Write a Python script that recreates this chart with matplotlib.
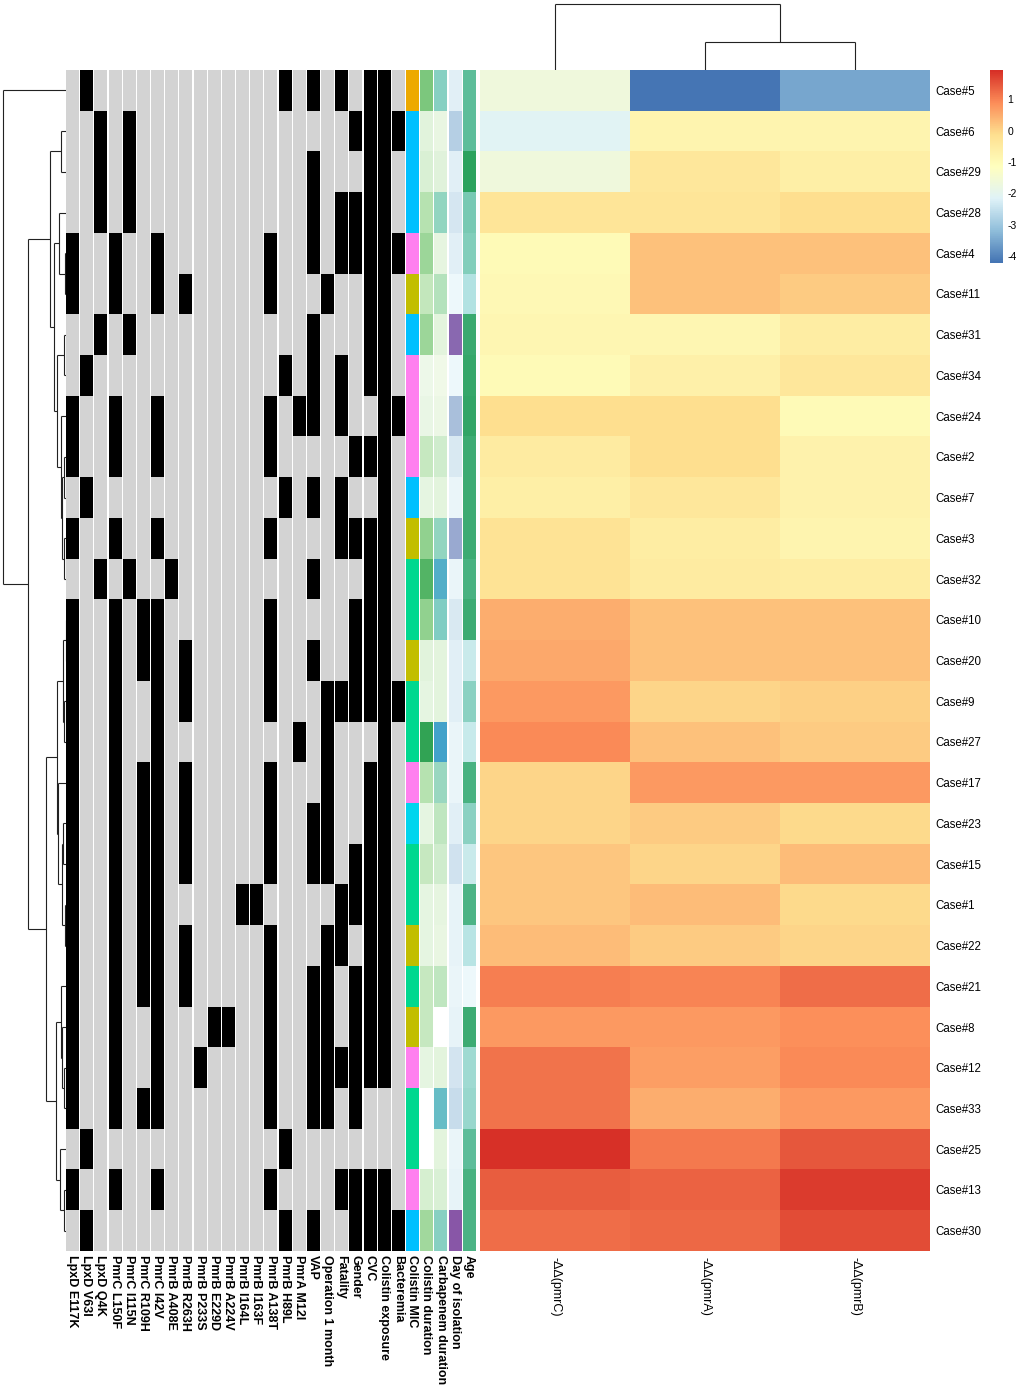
import numpy as np
import matplotlib
matplotlib.use("Agg")
import matplotlib.pyplot as plt
from matplotlib.colors import LinearSegmentedColormap, to_rgb

plt.rcParams['font.family'] = ['Liberation Sans', 'DejaVu Sans']

# ---- data -------------------------------------------------------------
cases = ["Case#5", "Case#6", "Case#29", "Case#28", "Case#4", "Case#11", "Case#31",
         "Case#34", "Case#24", "Case#2", "Case#7", "Case#3", "Case#32", "Case#10",
         "Case#20", "Case#9", "Case#27", "Case#17", "Case#23", "Case#15", "Case#1",
         "Case#22", "Case#21", "Case#8", "Case#12", "Case#33", "Case#25", "Case#13",
         "Case#30"]

genes = ["-ΔΔ(pmrC)", "-ΔΔ(pmrA)", "-ΔΔ(pmrB)"]
pmrC = [-1.67, -2.12, -1.67, -0.32, -1.02, -0.95, -0.88, -1.0, -0.15, -0.48, -0.65,
        -0.22, -0.22, 0.51, 0.56, 0.75, 0.94, 0.02, 0.02, 0.18, 0.21, 0.28, 1.02,
        0.75, 1.14, 1.14, 1.94, 1.39, 1.2]
pmrA = [-4.23, -0.78, -0.35, -0.32, 0.26, 0.23, -0.85, -0.68, -0.12, -0.15, -0.35,
        -0.58, -0.48, 0.26, 0.25, 0.02, 0.23, 0.74, 0.14, 0.02, 0.33, 0.15, 0.98,
        0.75, 0.66, 0.5, 1.09, 1.36, 1.3]
pmrB = [-3.54, -0.78, -0.65, -0.1, 0.25, 0.14, -0.58, -0.35, -1.0, -0.72, -0.72,
        -0.8, -0.55, 0.25, 0.25, 0.03, 0.15, 0.74, -0.08, 0.3, -0.05, -0.02, 1.23,
        0.84, 0.91, 0.75, 1.45, 1.78, 1.6]

features = ["LpxD E117K", "LpxD V63I", "LpxD Q4K", "PmrC L150F", "PmrC I115N",
            "PmrC R109H", "PmrC I42V", "PmrB A408E", "PmrB R263H", "PmrB P233S",
            "PmrB E229D", "PmrB A224V", "PmrB I164L", "PmrB I163F", "PmrB A138T",
            "PmrB H89L", "PmrA M12I", "VAP", "Operation 1 month", "Fatality",
            "Gender", "CVC", "Colistin exposure", "Bacteremia"]
# one string per case, one character per feature (1 = present)
binary_rows = [
    "010000000000000101010110",
    "001010000000000000001111",
    "001010000000000001000110",
    "001010000000000001011110",
    "100100100000001001011111",
    "100100101000001000100110",
    "001010000000000001000110",
    "010000000000000101010110",
    "100100100000001011010011",
    "100100100000001000001110",
    "010000000000000101010010",
    "100100100000001000011110",
    "001010010000000001000110",
    "100101100000001000001110",
    "100101101000001001001110",
    "100100101000001000111111",
    "100100100000000010100010",
    "100101101000001000100110",
    "100101101000001001100110",
    "100101101000001001101110",
    "100101100000110000011110",
    "100101101000001000110110",
    "100101101000001001101110",
    "100100100011001001101110",
    "100100100100001001111110",
    "100101100000001001101000",
    "010000000000000100000000",
    "100100100000001000011110",
    "010000000000000101001111",
]

colistin_mic = ["0.5", "2", "2", "2", "4", "8", "2", "4", "4", "4", "2", "8", "16", "16",
                "8", "16", "16", "4", "1", "16", "16", "8", "16", "8", "4", "16", "16",
                "4", "2"]
mic_colors = {"0.5": "#EDA900", "1": "#00D5EE", "2": "#00C0FF", "4": "#FF7FEF",
              "8": "#C2BE00", "16": "#00D88F"}
colistin_duration = [25, 3, 5, 14, 19, 11, 19, 0, 1, 10, 2, 21, 33, 21, 3, 2, 40, 14, 2,
                     10, 2, 2, 10, 10, 2, np.nan, np.nan, 6, 18]
carbapenem_duration = [30, 2, 5, 27, 3, 18, 4, 0, 1, 10, 4, 27, 45, 32, 4, 4, 50, 25, 15,
                       10, 3, 2, 15, np.nan, 4, 39, 4, 7, 30]
day_of_isolation = [4, 19, 4, 8, 4, 0, 54, 0, 25, 7, 1, 33, 1, 7, 4, 4, 1, 1, 4, 10, 2, 2,
                    1, 2, 9, 13, 1, 2, 60]
age = [70, 70, 90, 61, 58, 43, 84, 86, 87, 83, 83, 83, 78, 83, 34, 55, 35, 78, 55, 34, 77,
       41, 20, 83, 49, 51, 70, 78, 77]

# ---- helpers ----------------------------------------------------------
W, H = 1024, 1389
fig = plt.figure(figsize=(W / 100, H / 100), dpi=100)


def px_axes(x0, y0, x1, y1):
    ax = fig.add_axes([x0 / W, 1 - y1 / H, (x1 - x0) / W, (y1 - y0) / H])
    return ax


def ordered_complete_linkage(X):
    # euclidean / complete linkage, only neighbouring clusters (keeps the shown order)
    X = np.asarray(X, float)
    n = len(X)
    D = np.sqrt(((X[:, None] - X[None]) ** 2).sum(-1))
    groups = [[i] for i in range(n)]
    ids = list(range(n))
    merges = []
    nxt = n
    while len(groups) > 1:
        d = [D[np.ix_(groups[k], groups[k + 1])].max() for k in range(len(groups) - 1)]
        k = int(np.argmin(d))
        merges.append((ids[k], ids[k + 1], d[k]))
        groups[k:k + 2] = [groups[k] + groups[k + 1]]
        ids[k:k + 2] = [nxt]
        nxt += 1
    return merges


def dendro_segments(merges, n):
    pos = {i: i + 0.5 for i in range(n)}
    hgt = {i: 0.0 for i in range(n)}
    segs = []
    for k, (a, b, h) in enumerate(merges):
        node = n + k
        segs.append(((hgt[a], h), (pos[a], pos[a])))
        segs.append(((hgt[b], h), (pos[b], pos[b])))
        segs.append(((h, h), (pos[a], pos[b])))
        pos[node] = (pos[a] + pos[b]) / 2
        hgt[node] = h
    return segs


n = len(cases)
Y0, Y1 = 70, 1251
mat = np.column_stack([pmrC, pmrA, pmrB])

# ---- row dendrogram ---------------------------------------------------
row_merges = ordered_complete_linkage(mat)
root = row_merges[-1][2]
axd = px_axes(0, Y0, 66, Y1)
for (hx, yy) in dendro_segments(row_merges, n):
    axd.plot(hx, yy, color="#222222", lw=0.8, solid_capstyle="butt")
axd.set_xlim(root * 66 / 63, 0)
axd.set_ylim(n, 0)
axd.axis("off")

# ---- annotation tracks ------------------------------------------------
ann = px_axes(66, Y0, 477, Y1)
ntr = len(features) + 5
track_w = 0.86
bin_arr = np.array([[int(c) for c in r] for r in binary_rows])
for j in range(len(features)):
    col = np.array([to_rgb("#000000") if v else to_rgb("#D3D3D3") for v in bin_arr[:, j]])
    ann.imshow(col[:, None, :], extent=[j, j + track_w, n, 0], aspect="auto",
               interpolation="nearest")

cont_pal = {
    "Colistin duration": ["#EDF8E9", "#BAE4B3", "#74C476", "#31A354"],
    "Carbapenem duration": ["#F0F9E8", "#BAE4BC", "#7BCCC4", "#43A2CA"],
    "Day of isolation": ["#EDF8FB", "#B3CDE3", "#8C96C6", "#8856A7"],
    "Age": ["#EDF8FB", "#B2E2E2", "#66C2A4", "#2CA25F"],
}
cont_data = {
    "Colistin duration": colistin_duration,
    "Carbapenem duration": carbapenem_duration,
    "Day of isolation": day_of_isolation,
    "Age": age,
}
j = len(features)
col = np.array([to_rgb(mic_colors[m]) for m in colistin_mic])
ann.imshow(col[:, None, :], extent=[j, j + track_w, n, 0], aspect="auto",
           interpolation="nearest")
ann_labels = features + ["Colistin MIC"]
for name, vals in cont_data.items():
    j += 1
    v = np.array(vals, dtype=float)
    cm = LinearSegmentedColormap.from_list(name, cont_pal[name])
    cm.set_bad("white")
    ann.imshow(np.ma.masked_invalid(v)[:, None], extent=[j, j + track_w, n, 0],
               aspect="auto", interpolation="nearest", cmap=cm,
               vmin=np.nanmin(v), vmax=np.nanmax(v))
    ann_labels.append(name)
ann.set_xlim(0, ntr)
ann.set_ylim(n, 0)
ann.set_xticks(np.arange(ntr) + track_w / 2)
ann.set_xticklabels(ann_labels, rotation=270, fontsize=9, fontweight="bold",
                    va="top", ha="center")
ann.set_yticks([])
ann.tick_params(axis="x", length=0, pad=3)
for s in ann.spines.values():
    s.set_visible(False)

# ---- main heatmap -----------------------------------------------------
rdylbu = ["#4575B4", "#91BFDB", "#E0F3F8", "#FFFFBF", "#FEE090", "#FC8D59", "#D73027"]
cmap = LinearSegmentedColormap.from_list("rdylbu_r", rdylbu, N=100)
vmin, vmax = mat.min(), mat.max()

axh = px_axes(480, Y0, 930, Y1)
axh.imshow(mat, cmap=cmap, vmin=vmin, vmax=vmax, aspect="auto", interpolation="nearest",
           extent=[0, 3, n, 0])
axh.set_xlim(0, 3)
axh.set_ylim(n, 0)
axh.set_xticks(np.arange(3) + 0.5)
axh.set_xticklabels(genes, rotation=270, fontsize=9, va="top", ha="center")
axh.yaxis.tick_right()
axh.set_yticks(np.arange(n) + 0.5)
axh.set_yticklabels(cases, fontsize=8.3)
axh.tick_params(length=0, pad=4)
for s in axh.spines.values():
    s.set_visible(False)

# ---- column dendrogram ------------------------------------------------
col_merges = ordered_complete_linkage(mat.T)
croot = col_merges[-1][2]
axc = px_axes(480, 0, 930, Y0)
for (hy, xx) in dendro_segments(col_merges, 3):
    axc.plot(xx, hy, color="#222222", lw=0.8, solid_capstyle="butt")
axc.set_xlim(0, 3)
axc.set_ylim(0, croot * 70 / 66.5)
axc.axis("off")

# ---- colour legend ----------------------------------------------------
axl = px_axes(990, Y0, 1003, 263)
grad = np.linspace(vmin, vmax, 100)[:, None]
axl.imshow(grad, cmap=cmap, vmin=vmin, vmax=vmax, aspect="auto", origin="lower",
           extent=[0, 1, vmin, vmax])
axl.set_ylim(vmin, vmax)
axl.set_xticks([])
axl.yaxis.tick_right()
ticks = [1, 0, -1, -2, -3, -4]
axl.set_yticks(ticks)
axl.set_yticklabels([str(t) for t in ticks], fontsize=7.5)
axl.tick_params(length=0, pad=3)
for s in axl.spines.values():
    s.set_visible(False)

fig.savefig("out.png", dpi=100)
